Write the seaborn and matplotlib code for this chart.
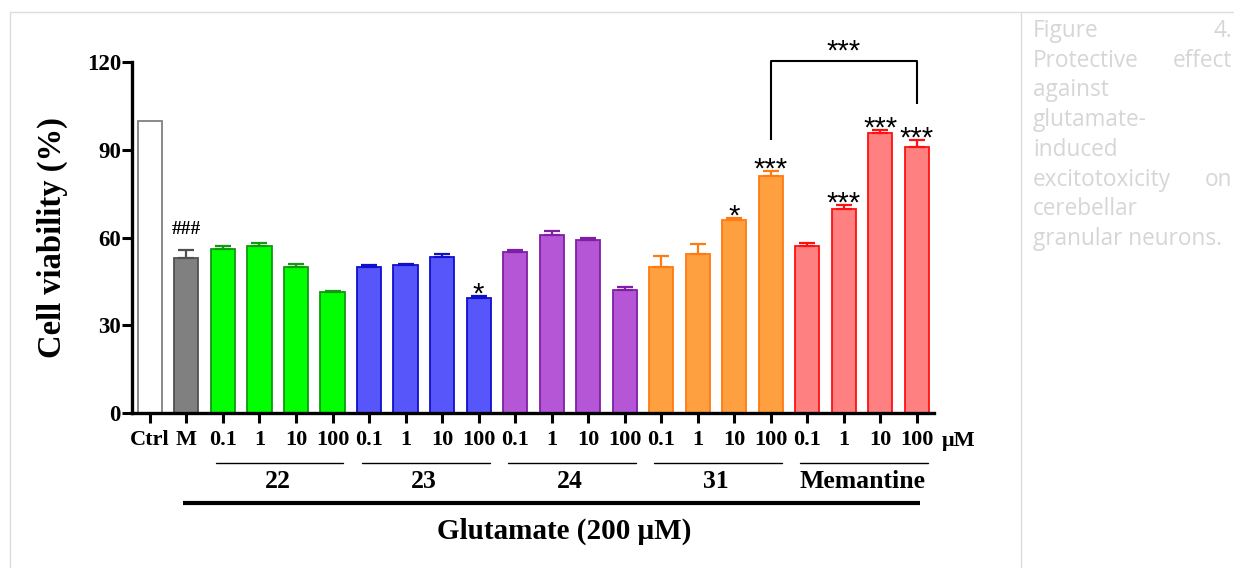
import numpy as np
import pandas as pd
import matplotlib
matplotlib.use("Agg")
import matplotlib.pyplot as plt
import matplotlib.transforms as mtransforms
from matplotlib.lines import Line2D
import seaborn as sns

# ---------------- data ----------------
groups = ["Ctrl", "M",
          "22", "22", "22", "22",
          "23", "23", "23", "23",
          "24", "24", "24", "24",
          "31", "31", "31", "31",
          "Memantine", "Memantine", "Memantine", "Memantine"]
doses = ["Ctrl", "M",
         "0.1", "1", "10", "100",
         "0.1", "1", "10", "100",
         "0.1", "1", "10", "100",
         "0.1", "1", "10", "100",
         "0.1", "1", "10", "100"]
viability = [100, 53, 56, 57, 50, 41.2, 50, 50.6, 53.2, 39.3,
             55, 60.8, 59, 42, 50, 54.2, 66, 81, 57.2, 69.8, 95.8, 91]
sem = [0, 2.6, 1.0, 1.0, 0.8, 0.6, 0.5, 0.5, 1.3, 0.8,
       0.6, 1.5, 1.0, 1.2, 3.7, 3.7, 0.6, 1.8, 1.0, 1.3, 1.1, 2.4]
signif = ["", "###", "", "", "", "", "", "", "", "*",
          "", "", "", "", "", "", "*", "***", "", "***", "***", "***"]
compound_names = ["22", "23", "24", "31", "Memantine"]
bracket_pair = (17, 21)
bracket_label = "***"
x_title = "Glutamate (200 μM)"
y_title = "Cell viability (%)"
unit_label = "μM"
yticks = [0, 30, 60, 90, 120]
caption_lines = [("Figure", "4."), ("Protective", "effect"), ("against", None),
                 ("glutamate-", None), ("induced", None), ("excitotoxicity", "on"),
                 ("cerebellar", None), ("granular neurons.", None)]

fill = {"Ctrl": "#FFFFFF", "M": "#808080", "22": "#00FF00", "23": "#5656FA",
        "24": "#B556D6", "31": "#FFA040", "Memantine": "#FF8080"}
edge = {"Ctrl": "#808080", "M": "#505050", "22": "#119911", "23": "#1010CC",
        "24": "#7F1FA5", "31": "#FF7A10", "Memantine": "#FF1010"}

keys = [f"{g}|{d}" for g, d in zip(groups, doses)]
df = pd.DataFrame({"key": keys, "group": groups, "dose": doses, "viability": viability})

# ---------------- figure ----------------
sns.set_style("ticks")
plt.rcParams["font.family"] = ["Liberation Serif", "DejaVu Serif"]
plt.rcParams["font.weight"] = "bold"
for k in ["text.color", "axes.labelcolor", "xtick.color", "ytick.color", "axes.edgecolor"]:
    plt.rcParams[k] = "black"

W, H = 1234, 568
fig = plt.figure(figsize=(W / 100, H / 100), dpi=100)
ax_l, ax_r, ax_b, ax_t = 132, 934, 413, 62
ax = fig.add_axes([ax_l / W, 1 - ax_b / H, (ax_r - ax_l) / W, (ax_b - ax_t) / H])

palette = {k: fill[g] for k, g in zip(keys, groups)}
sns.barplot(data=df, x="key", y="viability", hue="key", order=keys, hue_order=keys,
            palette=palette, legend=False, width=0.66, saturation=1,
            errorbar=None, linewidth=1.2, ax=ax)

bars = sorted([p for p in ax.patches], key=lambda p: p.get_x())
centers = []
for p, g in zip(bars, groups):
    p.set_edgecolor(edge[g])
    p.set_linewidth(1.3)
    centers.append(p.get_x() + p.get_width() / 2)

for xc, v, e, g in zip(centers, viability, sem, groups):
    if e > 0:
        ax.errorbar([xc], [v], yerr=[[0], [e]], fmt="none", ecolor=edge[g],
                    elinewidth=1.6, capsize=6, capthick=1.6, zorder=3)

star_font = ["Liberation Sans", "DejaVu Sans"]
for xc, v, e, s in zip(centers, viability, sem, signif):
    if not s:
        continue
    if s.startswith("#"):
        ax.text(xc, v + e + 5.6, s, ha="center", va="baseline", fontsize=14,
                fontweight="bold", family=["Liberation Serif"])
    else:
        ax.text(xc, v + e - 2.3, s, ha="center", va="baseline", fontsize=21,
                fontweight="normal", family=star_font)

# comparison bracket
i0, i1 = bracket_pair
top0 = viability[i0] + sem[i0]
top1 = viability[i1] + sem[i1]
yb = 120.3
ax.plot([centers[i0], centers[i0], centers[i1], centers[i1]],
        [top0 + 10.6, yb, yb, top1 + 12.1], color="black", lw=1.5,
        clip_on=False, solid_capstyle="butt")
ax.text((centers[i0] + centers[i1]) / 2, yb + 0.6, bracket_label, ha="center",
        va="baseline", fontsize=21, fontweight="normal", family=star_font)

# axes styling
ax.set_ylim(0, 120)
ax.set_xlim(-0.49, 21.47)
ax.set_yticks(yticks)
ax.set_yticklabels([str(t) for t in yticks], fontsize=16.5, fontweight="bold")
ax.set_xticks(centers)
ax.set_xticklabels(doses, fontsize=16, fontweight="bold")
ax.tick_params(axis="both", direction="out", width=2.2, length=7, color="black")
ax.tick_params(axis="y", pad=1)
ax.tick_params(axis="x", pad=5)
ax.set_xlabel("")
ax.set_ylabel(y_title, fontsize=23.5, fontweight="bold")
ax.yaxis.set_label_coords(-0.08, 0.5)
sns.despine(ax=ax)
for sp in ["left", "bottom"]:
    ax.spines[sp].set_linewidth(2.4)
    ax.spines[sp].set_color("black")
ax.grid(False)
ax.set_facecolor("white")

# group annotations below axis
trans = mtransforms.blended_transform_factory(ax.transData, ax.transAxes)
def ypix(y):
    return (ax_b - y) / (ax_b - ax_t)

for name in compound_names:
    idx = [i for i, g in enumerate(groups) if g == name]
    xa, xb = centers[idx[0]] - 0.2, centers[idx[-1]] + 0.3
    ax.plot([xa, xb], [ypix(463)] * 2, transform=trans, color="black", lw=1.0,
            clip_on=False)
    ax.text((centers[idx[0]] + centers[idx[-1]]) / 2, ypix(482), name, transform=trans,
            ha="center", va="center", fontsize=18.5, fontweight="bold")

treated = [i for i, g in enumerate(groups) if g not in ("Ctrl",)]
xa, xb = centers[treated[0]] - 0.1, centers[-1] + 0.08
ax.plot([xa, xb], [ypix(503)] * 2, transform=trans, color="black", lw=3.0,
        clip_on=False, solid_capstyle="butt")
ax.text((xa + xb) / 2 + 0.35, ypix(531), x_title, transform=trans, ha="center",
        va="center", fontsize=21, fontweight="bold")
ax.text(centers[-1] + 1.15, ypix(441), unit_label, transform=trans, ha="center",
        va="center", fontsize=16, fontweight="bold")

# page frame lines
fc = "#dcdcdc"
fig.add_artist(Line2D([10 / W, 1], [1 - 12 / H] * 2, color=fc, lw=1))
fig.add_artist(Line2D([10 / W] * 2, [0, 1 - 12 / H], color=fc, lw=1))
fig.add_artist(Line2D([1021 / W] * 2, [0, 1 - 12 / H], color=fc, lw=1))

# caption panel
cap_font = ["Open Sans", "DejaVu Sans"]
y0, dy = 31, 29.7
for k, (left, right) in enumerate(caption_lines):
    yy = 1 - (y0 + k * dy) / H
    fig.text(1033 / W, yy, left, ha="left", va="center", fontsize=16.3,
             color="#d6d6d6", family=cap_font, fontweight="normal")
    if right:
        fig.text(1232 / W, yy, right, ha="right", va="center", fontsize=16.3,
                 color="#d6d6d6", family=cap_font, fontweight="normal")

fig.savefig("out.png", dpi=100, facecolor="white")
